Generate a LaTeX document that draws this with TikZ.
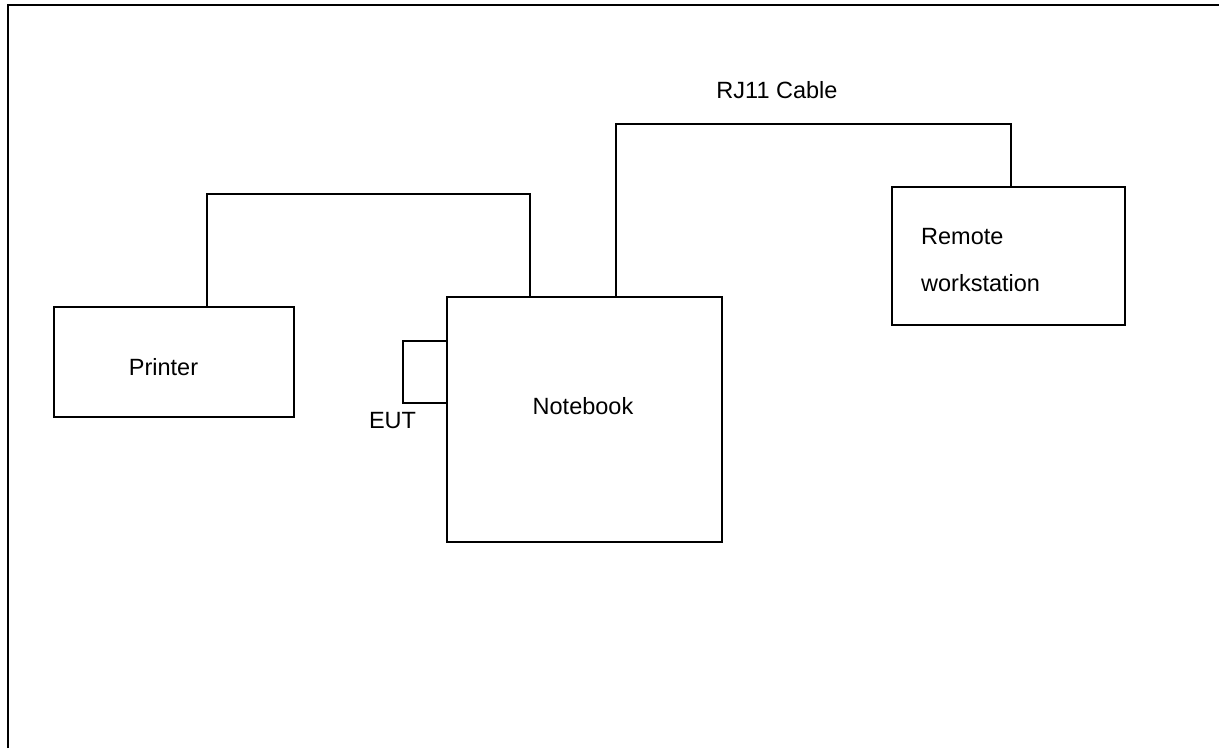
\documentclass[tikz,border=0pt]{standalone}
\usepackage{fontspec}
\setmainfont{Liberation Sans}

\tikzset{
  box/.style={draw,line width=1.5pt,inner sep=0pt,outer sep=0pt},
  wire/.style={line width=1.5pt},
  lbl/.style={inner sep=0pt,font=\fontsize{23.5}{47}\selectfont}
}

\begin{document}
\begin{tikzpicture}[x=1pt,y=-1pt]

\useasboundingbox (0,0) rectangle (1219,748);

% Cadre
\draw[line width=2pt] (7.5,748) -- (7.5,4.5) -- (1219,4.5);

% Appareils
\node[box,minimum width=240pt,minimum height=110pt]
(printer)
at (174,362)
{};

\node[box,minimum width=275pt,minimum height=245pt]
(notebook)
at (584.5,419.5)
{};

\node[box,minimum width=44pt,minimum height=62pt,anchor=east]
(eut)
at ([yshift=47.5pt]notebook.west)
{};

\node[box,minimum width=233pt,minimum height=138pt]
(remote)
at (1008.5,256)
{};

% Textes
\node[lbl,anchor=base]
(printerlbl)
at (163.5,375)
{Printer};

\node[lbl,anchor=base]
(notebooklbl)
at (583,414)
{Notebook};

\node[lbl,anchor=base]
(eutlbl)
at (392.5,428)
{EUT};

\node[lbl,anchor=west,align=left]
(remotelbl)
at (921,260)
{Remote\\workstation};

\node[lbl,anchor=base]
(cablelbl)
at (777,98)
{RJ11 Cable};

% Cables
\draw[wire] ([xshift=33pt]printer.north) -- ++(0,-113) -| ([xshift=-54.5pt]notebook.north);
\draw[wire] ([xshift=31.5pt]notebook.north) -- ++(0,-173) -| ([xshift=2.5pt]remote.north);

\end{tikzpicture}
\end{document}
